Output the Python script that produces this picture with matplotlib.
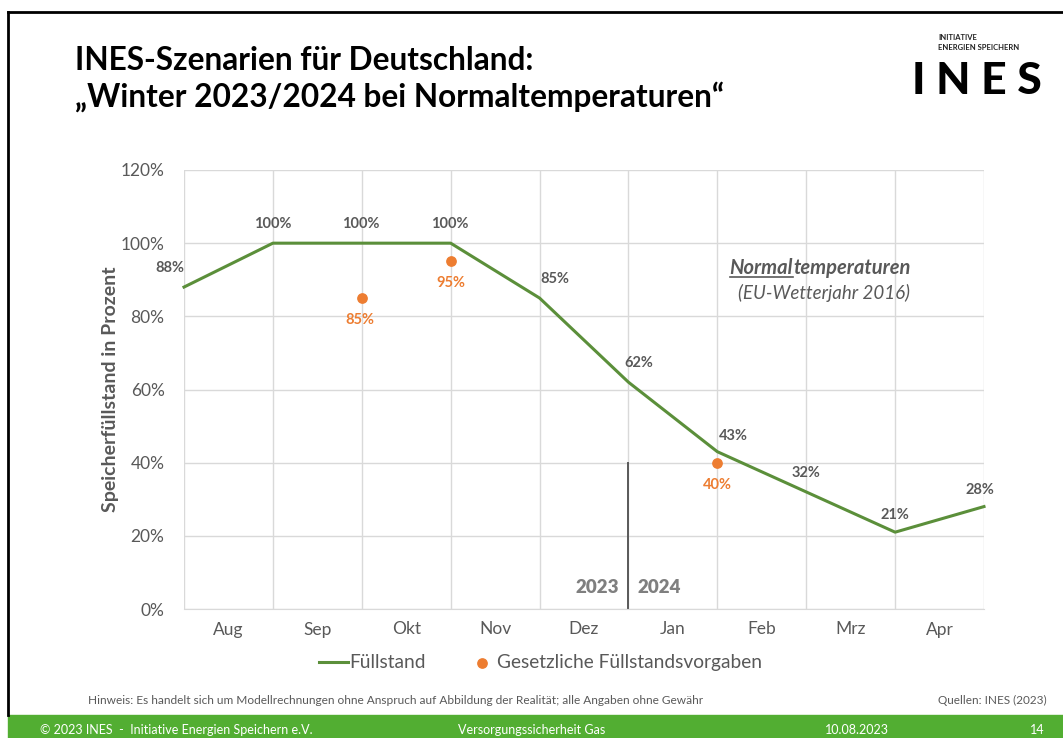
import matplotlib
matplotlib.use("Agg")
import matplotlib.pyplot as plt
from matplotlib.lines import Line2D
from matplotlib.patches import Rectangle

plt.rcParams['font.family'] = ['Lato', 'DejaVu Sans']

# data
months = ['Aug', 'Sep', 'Okt', 'Nov', 'Dez', 'Jan', 'Feb', 'Mrz', 'Apr']
fill_x = [0, 1, 2, 3, 4, 5, 6, 7, 8, 9]
fill_level = [88, 100, 100, 100, 85, 62, 43, 32, 21, 28]
target_x = [2, 3, 6]
target_level = [85, 95, 40]
yticks = [0, 20, 40, 60, 80, 100, 120]

# label offsets (pixels)
fill_offsets = [(-14, 19), (0, 19), (-1, 19), (-1, 19), (15, 19),
                (10, 19), (16, 16), (0, 19), (0, 17), (-4, 17)]
target_offsets = [(-2, -22), (0, -22), (0, -22)]

GREEN = '#5b8f3a'
ORANGE = '#ed7d31'
GRAY = '#595959'
GRID = '#d9d9d9'

fig = plt.figure(figsize=(10.63, 7.38), dpi=100)
ax = fig.add_axes([184 / 1063, 1 - 609 / 738, 800 / 1063, 439 / 738])

ax.plot(fill_x, fill_level, color=GREEN, lw=2.2, clip_on=False, zorder=3, label='Füllstand')
ax.scatter(target_x, target_level, color=ORANGE, s=45, zorder=4, clip_on=False,
           label='Gesetzliche Füllstandsvorgaben')

for x, v, off in zip(fill_x, fill_level, fill_offsets):
    ax.annotate(f'{v}%', (x, v), xytext=off, textcoords='offset pixels',
                ha='center', va='center', fontsize=10.5, fontweight='bold', color=GRAY)
for x, v, off in zip(target_x, target_level, target_offsets):
    ax.annotate(f'{v}%', (x, v), xytext=off, textcoords='offset pixels',
                ha='center', va='center', fontsize=10.5, fontweight='bold', color=ORANGE)

# year separator
ax.plot([5, 5], [0, 40], color=GRAY, lw=1.4, zorder=2)
ax.annotate('2023', (5, 6), xytext=(-9, 0), textcoords='offset pixels', ha='right',
            va='center', fontsize=13.5, fontweight='heavy', color='#7f7f7f')
ax.annotate('2024', (5, 6), xytext=(9, 0), textcoords='offset pixels', ha='left',
            va='center', fontsize=13.5, fontweight='heavy', color='#7f7f7f')

ax.set_xlim(0, 9)
ax.set_ylim(0, 120)
ax.set_xticks(range(10))
ax.set_xticklabels([])
ax.set_xticks([i + 0.5 for i in range(9)], minor=True)
ax.set_xticklabels(months, minor=True)
ax.set_yticks(yticks)
ax.set_yticklabels([f'{t}%' for t in yticks])
ax.tick_params(which='both', length=0, colors=GRAY, labelsize=12.5)
ax.tick_params(axis='x', which='minor', pad=9)
ax.tick_params(axis='y', pad=14)
ax.grid(True, which='major', color=GRID, lw=1)
for s in ['top', 'right', 'left']:
    ax.spines[s].set_visible(False)
ax.spines['bottom'].set_color(GRID)
ax.set_axisbelow(True)
ax.set_ylabel('Speicherfüllstand in Prozent', fontsize=14, fontweight='bold', color=GRAY, labelpad=1)

ax.legend(loc='center', bbox_to_anchor=(0.446, -0.123), ncol=2, frameon=False,
          fontsize=13.8, labelcolor=GRAY, handlelength=1.5, handletextpad=0.05, columnspacing=2.2)

# annotation "Normaltemperaturen"
t1 = ax.text(6.85, 93.2, 'Normal', ha='right', va='center', fontsize=14.5,
             fontweight='bold', style='italic', color=GRAY)
t2 = ax.text(6.85, 93.2, 'temperaturen', ha='left', va='center', fontsize=14.5,
             fontweight='bold', style='italic', color=GRAY)
ax.text(7.2, 86.3, '(EU-Wetterjahr 2016)', ha='center', va='center', fontsize=13.5,
        style='italic', color=GRAY)

# title and logo
fig.text(75 / 1063, 1 - 60 / 738, 'INES-Szenarien für Deutschland:', fontsize=22.8,
         fontweight='bold', color='black', va='center')
fig.text(75 / 1063, 1 - 97 / 738, '„Winter 2023/2024 bei Normaltemperaturen“', fontsize=22.8,
         fontweight='bold', color='black', va='center')
fig.text(938 / 1063, 1 - 38 / 738, 'INITIATIVE', fontsize=5.5, fontweight='bold', color='#222222', va='center')
fig.text(938 / 1063, 1 - 48 / 738, 'ENERGIEN SPEICHERN', fontsize=5.5, fontweight='bold', color='#222222', va='center')
fig.text(977 / 1063, 1 - 81 / 738, 'I N E S', fontsize=32, fontweight='black', color='black',
         ha='center', va='center')

# footer
fig.text(88 / 1063, 1 - 700 / 738, 'Hinweis: Es handelt sich um Modellrechnungen ohne Anspruch auf Abbildung der Realität; alle Angaben ohne Gewähr',
         fontsize=8.6, color=GRAY, va='center')
fig.text(1047 / 1063, 1 - 700 / 738, 'Quellen: INES (2023)', fontsize=8.5, color=GRAY, va='center', ha='right')
fig.add_artist(Rectangle((8 / 1063, 0), 1, 23 / 738, transform=fig.transFigure,
                         color='#52ae32', zorder=0))
fig.text(40 / 1063, 1 - 730 / 738, '© 2023 INES  -  Initiative Energien Speichern e.V.', fontsize=9, color='white', va='center')
fig.text(458 / 1063, 1 - 730 / 738, 'Versorgungssicherheit Gas', fontsize=9, color='white', va='center')
fig.text(825 / 1063, 1 - 730 / 738, '10.08.2023', fontsize=9, color='white', va='center')
fig.text(1030 / 1063, 1 - 730 / 738, '14', fontsize=9, color='white', va='center')

# slide border (top and left)
fig.add_artist(Line2D([8 / 1063, 1], [1 - 12 / 738, 1 - 12 / 738], transform=fig.transFigure, color='black', lw=2))
fig.add_artist(Line2D([8 / 1063, 8 / 1063], [1 - 12 / 738, 23 / 738], transform=fig.transFigure, color='black', lw=2))

# underline "Normal"
fig.canvas.draw()
bb = t1.get_window_extent()
inv = fig.transFigure.inverted()
(x0, y0), (x1, _) = inv.transform([(bb.x0, bb.y0), (bb.x1, bb.y0)])
fig.add_artist(Line2D([x0, x1], [y0 + 0.002, y0 + 0.002], transform=fig.transFigure, color=GRAY, lw=1.2))

fig.savefig('out.png', dpi=100)
